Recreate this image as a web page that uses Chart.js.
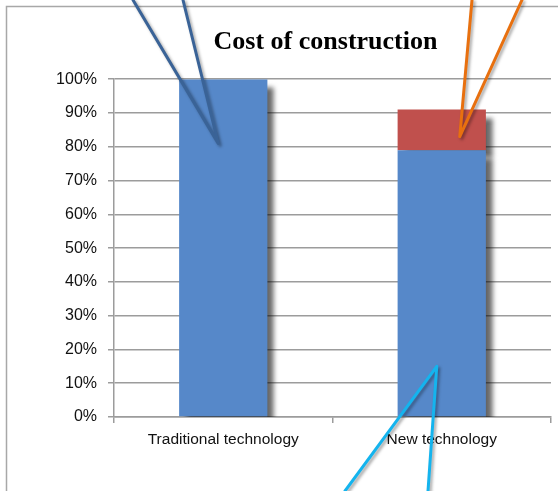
<!DOCTYPE html>
<html>
<head>
<meta charset="utf-8">
<title>Cost of construction</title>
<script src="https://cdn.jsdelivr.net/npm/chart.js@4.4.0/dist/chart.umd.min.js"></script>
<style>
  html, body { margin: 0; padding: 0; background: #fff; }
  canvas { display: block; }
</style>
</head>
<body>
<canvas id="costChart" width="558" height="491"></canvas>
<script>
// data
const categories = ['Traditional technology', 'New technology'];
const baseShare = [100, 79];   // blue part, %
const extraShare = [0, 12];    // red part on top, %
const yMin = 0, yMax = 100, yStep = 10;

// callout arrows: tip sits on a bar (category index + value), ends run off the picture
const callouts = [
    {color: '#3A6397', cat: 0, value: 81, dx: -5, ends: [[133, 0], [183, 0]]},
    {color: '#E8700F', cat: 1, value: 83, dx: 18, ends: [[472, 0], [522, 0]]},
    {color: '#14B4EE', cat: 1, value: 15, dx: -5, ends: [[345, 491], [428, 491]]}
];

const gridGray = '#9c9c9c';

// white page + thin frame like the pasted picture
const framePlugin = {
    id: 'frame',
    beforeDraw(chart){
        const ctx = chart.ctx;
        ctx.save();
        ctx.fillStyle = '#fff';
        ctx.fillRect(0, 0, chart.width, chart.height);
        ctx.strokeStyle = '#a8a8a8';
        ctx.lineWidth = 1.5;
        ctx.beginPath();
        ctx.moveTo(6.5, chart.height);
        ctx.lineTo(6.5, 6.5);
        ctx.lineTo(chart.width, 6.5);
        ctx.stroke();
        ctx.restore();
    }
};

// title in the original sits a bit left of the plot centre
const titleNudge = {
    id: 'titleNudge',
    afterLayout(chart){
        const t = chart.titleBlock;
        if(t){
            t.left -= 14;
        }
    }
};

// drop shadow behind the bars
const barShadow = {
    id: 'barShadow',
    beforeDatasetsDraw(chart){
        const ctx = chart.ctx, a = chart.chartArea;
        ctx.save();
        ctx.beginPath();
        ctx.rect(a.left, a.top - 20, a.right - a.left, a.bottom - a.top + 20);
        ctx.clip();
        ctx.shadowColor = 'rgba(0,0,0,0.6)';
        ctx.shadowBlur = 5;
        ctx.shadowOffsetX = 7;
        ctx.shadowOffsetY = 8;
    },
    afterDatasetsDraw(chart){
        chart.ctx.restore();
    }
};

// the coloured pointer lines
const calloutPlugin = {
    id: 'callouts',
    afterDraw(chart){
        const ctx = chart.ctx;
        const xs = chart.scales.x, ys = chart.scales.y;
        ctx.save();
        ctx.lineWidth = 3;
        ctx.lineCap = 'round';
        ctx.lineJoin = 'round';
        ctx.shadowColor = 'rgba(0,0,0,0.35)';
        ctx.shadowBlur = 3;
        ctx.shadowOffsetX = 2;
        ctx.shadowOffsetY = 2;
        callouts.forEach(c=>{
            const tx = xs.getPixelForValue(c.cat) + c.dx;
            const ty = ys.getPixelForValue(c.value);
            ctx.strokeStyle = c.color;
            ctx.beginPath();
            ctx.moveTo(c.ends[0][0], c.ends[0][1]);
            ctx.lineTo(tx, ty);
            ctx.lineTo(c.ends[1][0], c.ends[1][1]);
            ctx.stroke();
        });
        ctx.restore();
    }
};

var ctx = document.getElementById('costChart').getContext('2d');
var chart = new Chart(ctx, {
    type: 'bar',
    data: {
        labels: categories,
        datasets: [{
            label: 'Base',
            data: baseShare,
            backgroundColor: '#5688C9',
            borderWidth: 0
        },{
            label: 'Extra',
            data: extraShare,
            backgroundColor: '#C0504D',
            borderWidth: 0
        }]
    },
    options: {
        responsive: false,
        animation: false,
        categoryPercentage: 1,
        barPercentage: 0.404,
        layout: {padding: {left: 0, right: 7, top: 0, bottom: 0}},
        plugins: {
            legend: {display: false},
            tooltip: {enabled: false},
            title: {
                display: true,
                text: 'Cost of construction',
                fullSize: false,
                color: '#000',
                font: {family: '"Liberation Serif", "Times New Roman", serif', size: 26, weight: 'bold'},
                padding: {top: 27, bottom: 21}
            }
        },
        scales: {
            x: {
                stacked: true,
                afterFit(scale){ scale.height = 74; },
                grid: {drawOnChartArea: false, drawTicks: true, tickLength: 6, color: gridGray, lineWidth: 1.5},
                border: {display: true, color: gridGray, width: 1.5},
                ticks: {
                    color: '#111',
                    padding: 7,
                    font: {family: '"Liberation Sans", Arial, sans-serif', size: 15.5}
                }
            },
            y: {
                stacked: true,
                min: yMin,
                max: yMax,
                afterFit(scale){ scale.width = 114; },
                grid: {color: gridGray, lineWidth: 1.5, tickLength: 6},
                border: {display: true, color: gridGray, width: 1.5},
                ticks: {
                    stepSize: yStep,
                    color: '#111',
                    padding: 11,
                    font: {family: '"Liberation Sans", Arial, sans-serif', size: 16},
                    callback: v=>v + '%'
                }
            }
        }
    },
    plugins: [framePlugin, titleNudge, barShadow, calloutPlugin]
});
</script>
</body>
</html>
